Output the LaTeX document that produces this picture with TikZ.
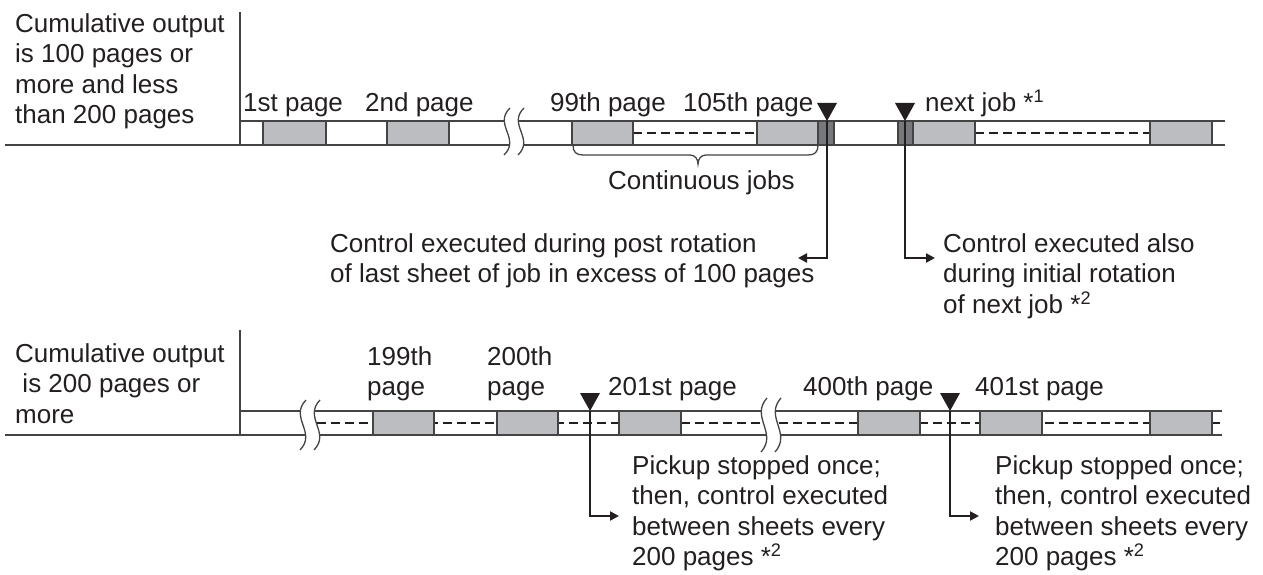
\documentclass[tikz,border=0pt]{standalone}
\usepackage{fontspec}
\setmainfont{Liberation Sans}
\usetikzlibrary{arrows.meta,positioning,calc}
\definecolor{sheetgray}{HTML}{BCBDC0}
\definecolor{rotgray} {HTML}{77787B}
\definecolor{rule}    {HTML}{444444}
\definecolor{ink}     {HTML}{231F20}

% break mark: x, top y, height
\newcommand{\cutmark}[3]{%
  \begin{scope}[shift={(#1,#2)}]
    \fill[white] (3,0) .. controls (-14,{0.35*#3}) and (14,{0.65*#3}) .. (-3,#3)
      -- (11,#3) .. controls (28,{0.65*#3}) and (0,{0.35*#3}) .. (17,0) -- cycle;
    \draw[band] (3,0) .. controls (-14,{0.35*#3}) and (14,{0.65*#3}) .. (-3,#3)
      (17,0) .. controls (0,{0.35*#3}) and (28,{0.65*#3}) .. (11,#3);
  \end{scope}}

\begin{document}
\begin{tikzpicture}[x=1pt, y=-1pt, font=\fontsize{26}{30.3}\selectfont,
    band/.style={draw=rule, line width=1.3pt},
    sheet/.style={fill=sheetgray, draw=rule, line width=1.3pt},
    rot/.style={fill=rotgray, draw=rule, line width=1.3pt},
    dashline/.style={draw=ink, line width=2.6pt, dash pattern=on 9pt off 5pt},
    conn/.style={draw=ink, line width=2.4pt, -{Triangle[length=9pt,width=9pt]}},
    lbl/.style={inner sep=0pt, anchor=base west, text=ink},
    note/.style={inner sep=0pt, anchor=north west, align=left, text=ink}]

  \useasboundingbox (0,0) rectangle (1263,575);

  % 100 to 199 pages
  \draw[band] (240,12) -- (240,145);
  \draw[band] (5,145) -- (1225,145);
  \draw[band] (240,121) -- (1225,121);
  \draw[dashline] (633,133) -- (757,133);
  \draw[dashline] (975,133) -- (1150,133);
  \foreach \a/\b in {263/326,387/449,572/633,757/818,913/975,1150/1212}
    \filldraw[sheet] (\a,121) rectangle (\b,145);
  \foreach \a/\b in {818/834,898/913}
    \filldraw[rot] (\a,121) rectangle (\b,145);
  \cutmark{507}{108}{47}
  \draw[band] (573,145) .. controls (573,152) and (576,155) .. (583,155) -- (690,155)
    .. controls (695,155) and (698,159) .. (698,164)
    .. controls (698,159) and (701,155) .. (706,155) -- (808,155)
    .. controls (815,155) and (818,152) .. (818,145);

  \coordinate (m1) at (827,121);
  \coordinate (m2) at (905,121);
  \foreach \m in {m1,m2}
    \fill[ink] (\m) -- ++(-10,-18) -- ++(20,0) -- cycle;
  \coordinate (a1) at (798,258);
  \coordinate (a2) at (935,258);
  \draw[conn] (m1) |- (a1);
  \draw[conn] (m2) |- (a2);

  \node[note] (case1) at (15,13.4) {Cumulative output\\is 100 pages or\\more and less\\than 200 pages};
  \node[lbl] (p1) at (243,112) {1st page};
  \node[lbl] (p2) at (365,112) {2nd page};
  \node[lbl] (p99) at (550,112) {99th page};
  \node[lbl] (p105) at (683,112) {105th page};
  \node[lbl] (next) at (925,112) {next job *\textsuperscript{1}};
  \node[lbl] (cont) at (608,189) {Continuous jobs};
  \node[note] (post) at (330,233.4) {Control executed during post rotation\\of last sheet of job in excess of 100 pages};
  \node[note] (init) at (943,233.4) {Control executed also\\during initial rotation\\of next job *\textsuperscript{2}};

  % 200 pages or more
  \draw[band] (240,330) -- (240,435);
  \draw[band] (5,435) -- (1222,435);
  \draw[band] (240,411) -- (1222,411);
  \draw[dashline] (317,423) -- (1220,423);
  \foreach \a/\b in {373/434,497/558,619/681,858/920,980/1042,1150/1212}
    \filldraw[sheet] (\a,411) rectangle (\b,435);
  \cutmark{303}{400}{50}
  \cutmark{764}{398}{54}

  \coordinate (m3) at (590,411);
  \coordinate (m4) at (950,411);
  \foreach \m in {m3,m4}
    \fill[ink] (\m) -- ++(-10,-18) -- ++(20,0) -- cycle;
  \coordinate (a3) at (619,516);
  \coordinate (a4) at (979,516);
  \draw[conn] (m3) |- (a3);
  \draw[conn] (m4) |- (a4);

  \node[note] (case2) at (15,343.4) {Cumulative output\\\hspace*{0.28em}is 200 pages or\\more};
  \node[note] (p199) at (367,346.4) {199th\\page};
  \node[note] (p200) at (487,346.4) {200th\\page};
  \node[lbl] (p201) at (608,395) {201st page};
  \node[lbl] (p400) at (803,395) {400th page};
  \node[lbl] (p401) at (975,395) {401st page};
  \node[note] (stop1) at (632,455.4) {Pickup stopped once;\\then, control executed\\between sheets every\\200 pages *\textsuperscript{2}};
  \node[note] (stop2) at (995,455.4) {Pickup stopped once;\\then, control executed\\between sheets every\\200 pages *\textsuperscript{2}};
\end{tikzpicture}
\end{document}
